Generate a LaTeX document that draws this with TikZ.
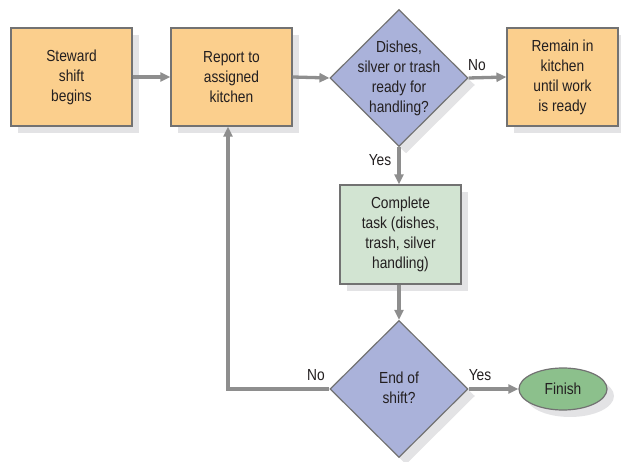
\documentclass[tikz,border=0pt]{standalone}
\usepackage{fontspec}
\setmainfont{Liberation Sans}[FakeStretch=0.86]
\usetikzlibrary{shapes.geometric,arrows.meta,shadows}

\definecolor{taskorange}{HTML}{FBCF8D}
\definecolor{decblue}{HTML}{AAB2DA}
\definecolor{workgreen}{HTML}{D2E4D2}
\definecolor{endgreen}{HTML}{8CC08C}
\definecolor{edgegray}{HTML}{727272}
\definecolor{flowgray}{HTML}{8E8E8E}
\definecolor{shadegray}{HTML}{E3E3E5}
\definecolor{inkgray}{HTML}{231F20}

\tikzset{
  base/.style={draw=edgegray, line width=1.2pt, text=inkgray, align=center,
    font=\fontsize{16}{20}\selectfont,
    drop shadow={shadow xshift=7pt, shadow yshift=-7pt, fill=shadegray, opacity=1}},
  procbox/.style={base, rectangle, minimum height=98pt, inner sep=0pt},
  decision/.style={base, diamond, minimum width=138pt, minimum height=137pt,
    inner sep=0pt, fill=decblue},
  terminal/.style={base, ellipse, minimum width=88pt, minimum height=42pt,
    inner sep=0pt, fill=endgreen},
  caption/.style={text=inkgray, align=center, font=\fontsize{16}{20}\selectfont, inner sep=0pt},
  flow/.style={draw=flowgray, line width=3.3pt,
    -{Triangle[length=10pt,width=9pt]}},
}

\begin{document}
\begin{tikzpicture}[x=1pt,y=-1pt]
\useasboundingbox (0,0) rectangle (621,462);

% process boxes
\node[procbox, fill=taskorange, minimum width=121pt] (start) at (71.5,77) {Steward\\shift\\begins};
\node[procbox, fill=taskorange, minimum width=121pt] (report) at (231.5,77) {Report to\\assigned\\kitchen};
\node[procbox, fill=taskorange, minimum width=111pt] (wait) at (562.5,77) {Remain in\\kitchen\\until work\\is ready};
\node[procbox, fill=workgreen, minimum width=121pt, minimum height=99pt] (work) at (400.5,234.5) {Complete\\task (dishes,\\trash, silver\\handling)};

% decisions
\node[decision] (ready) at (399,78) {};
\node[caption] (readytext) at (399,78) {Dishes,\\silver or trash\\ready for\\handling?};
\node[decision] (done) at (399,389) {};
\node[caption] (donetext) at (399,388) {End of\\shift?};

% terminal
\node[terminal] (finish) at (563,389) {Finish};

% connectors
\draw[flow] (start.east) -- (report.west);
\draw[flow] (report.east) -- (ready.west);
\draw[flow] (ready.east) -- (wait.west);
\draw[flow] (ready.south) -- (ready.south |- work.north);
\draw[flow] (work.south -| done.north) -- (done.north);
\draw[flow] (done.east) -- (finish.west);
\coordinate (loopcorner) at (228,389);
\draw[flow] (done.west) -- (loopcorner) -- (report.south -| loopcorner);

% branch labels
\node[caption] (lblno1) at (477,65) {No};
\node[caption] (lblyes1) at (380,160) {Yes};
\node[caption] (lblno2) at (316,375) {No};
\node[caption] (lblyes2) at (480,375) {Yes};
\end{tikzpicture}
\end{document}
